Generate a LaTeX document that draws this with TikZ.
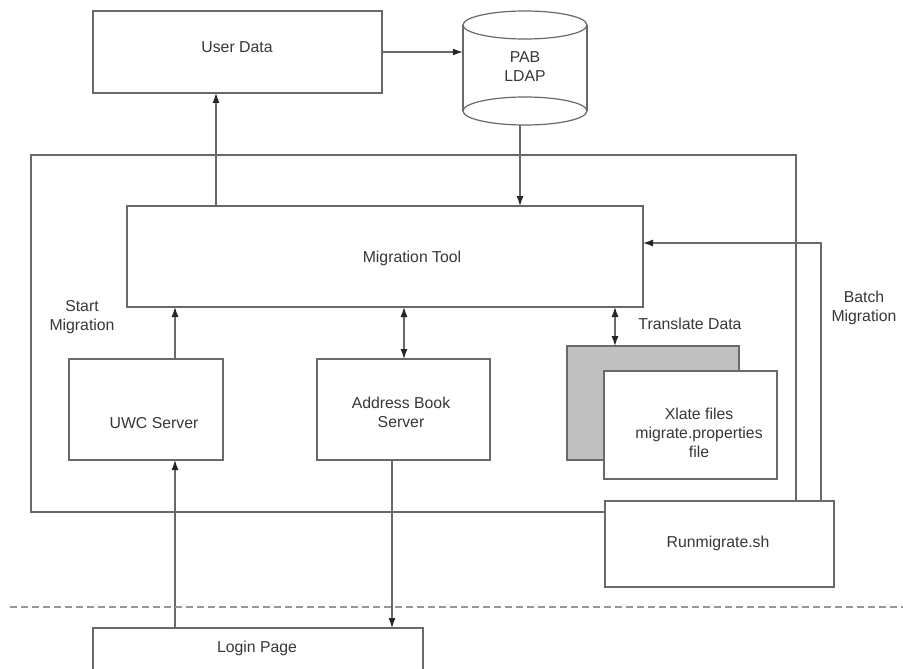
\documentclass[tikz,border=0pt]{standalone}
\usepackage{fontspec}
\setmainfont{Liberation Sans}
\usetikzlibrary{arrows.meta}
\definecolor{ln}{RGB}{105,105,105}
\definecolor{tx}{RGB}{55,55,55}
\definecolor{shade}{RGB}{192,192,192}
\begin{document}
\begin{tikzpicture}[x=1pt,y=-1pt,
  >={Latex[length=10pt,width=7pt,color=black!85]},
  box/.style={draw=ln,line width=1.2pt,fill=white,inner sep=0pt,outer sep=0pt},
  shadebox/.style={box,fill=shade},
  conn/.style={draw=ln,line width=1.2pt},
  txt/.style={text=tx,font=\fontsize{15.8}{19}\selectfont,align=center,inner sep=0pt},
  sepline/.style={draw=ln!70,line width=1.2pt,dash pattern=on 7pt off 4pt}]
\useasboundingbox (0,0) rectangle (903,669);
\clip (0,0) rectangle (903,669);
% outer frame
\node[box,minimum width=229pt,minimum height=86pt] (rm) at (719.5,544) {};
\draw[conn] (rm.west |- 0,512) -- (31,512) -- (31,155) -- (796,155) -- (796,0 |- rm.north);
% boxes
\node[box,minimum width=289pt,minimum height=82pt] (ud) at (237.5,52) {};
\node[txt] (udt) at (237,47) {User Data};
\node[box,minimum width=516pt,minimum height=101pt] (mt) at (385,256.5) {};
\node[txt] (mtt) at (412,258) {Migration Tool};
\node[box,minimum width=154pt,minimum height=101pt] (uwc) at (146,409.5) {};
\node[txt] (uwct) at (154,423) {UWC Server};
\node[box,minimum width=173pt,minimum height=101pt] (ab) at (403.5,409.5) {};
\node[txt] (abt) at (401,412) {Address Book\\Server};
\node[shadebox,minimum width=172pt,minimum height=114pt] (gray) at (653,403) {};
\node[box,minimum width=173pt,minimum height=108pt] (xl) at (690.5,425) {};
\node[txt] (xlt) at (699,433) {Xlate files\\migrate.properties\\file};
\node[txt] (rmt) at (718,543) {Runmigrate.sh};
\node[box,minimum width=330pt,minimum height=44pt] (login) at (258,650) {};
\node[txt] (logint) at (257,648) {Login Page};
% cylinder
\node[inner sep=0pt,minimum width=124pt,minimum height=114pt] (pab) at (525,68) {};
\fill[white] (463,25) rectangle (587,111);
\draw[conn,fill=white] (525,111) ellipse [x radius=62pt,y radius=14pt];
\draw[conn] (463,25) -- (463,111) (587,25) -- (587,111);
\draw[conn,fill=white] (525,25) ellipse [x radius=62pt,y radius=14pt];
\node[txt] (pabt) at (525,66.5) {PAB\\LDAP};
% labels
\node[txt] (startl) at (82,317.5) {Start\\Migration};
\node[txt] (transl) at (690,324) {Translate Data};
\node[txt] (batchl) at (864,308) {Batch\\Migration};
% connectors
\draw[conn,->] (216,0 |- mt.north) -- (216,0 |- ud.south);
\draw[conn,->] (ud.east) -- (ud.east -| pab.west);
\draw[conn,->] ([xshift=-5pt]pab.south) -- ([xshift=-5pt]pab.south |- mt.north);
\draw[conn,->] (175,0 |- uwc.north) -- (175,0 |- mt.south);
\draw[conn,<->] (404,0 |- ab.north) -- (404,0 |- mt.south);
\draw[conn,<->] (615,0 |- gray.north) -- (615,0 |- mt.south);
\draw[conn,->] (175,0 |- login.north) -- (175,0 |- uwc.south);
\draw[conn,->] (392,0 |- ab.south) -- (392,0 |- login.north);
\draw[conn,->] (821,0 |- rm.north) |- ([yshift=13.5pt]mt.east);
% separator
\draw[sepline] (10,607) -- (903,607);
\end{tikzpicture}
\end{document}
